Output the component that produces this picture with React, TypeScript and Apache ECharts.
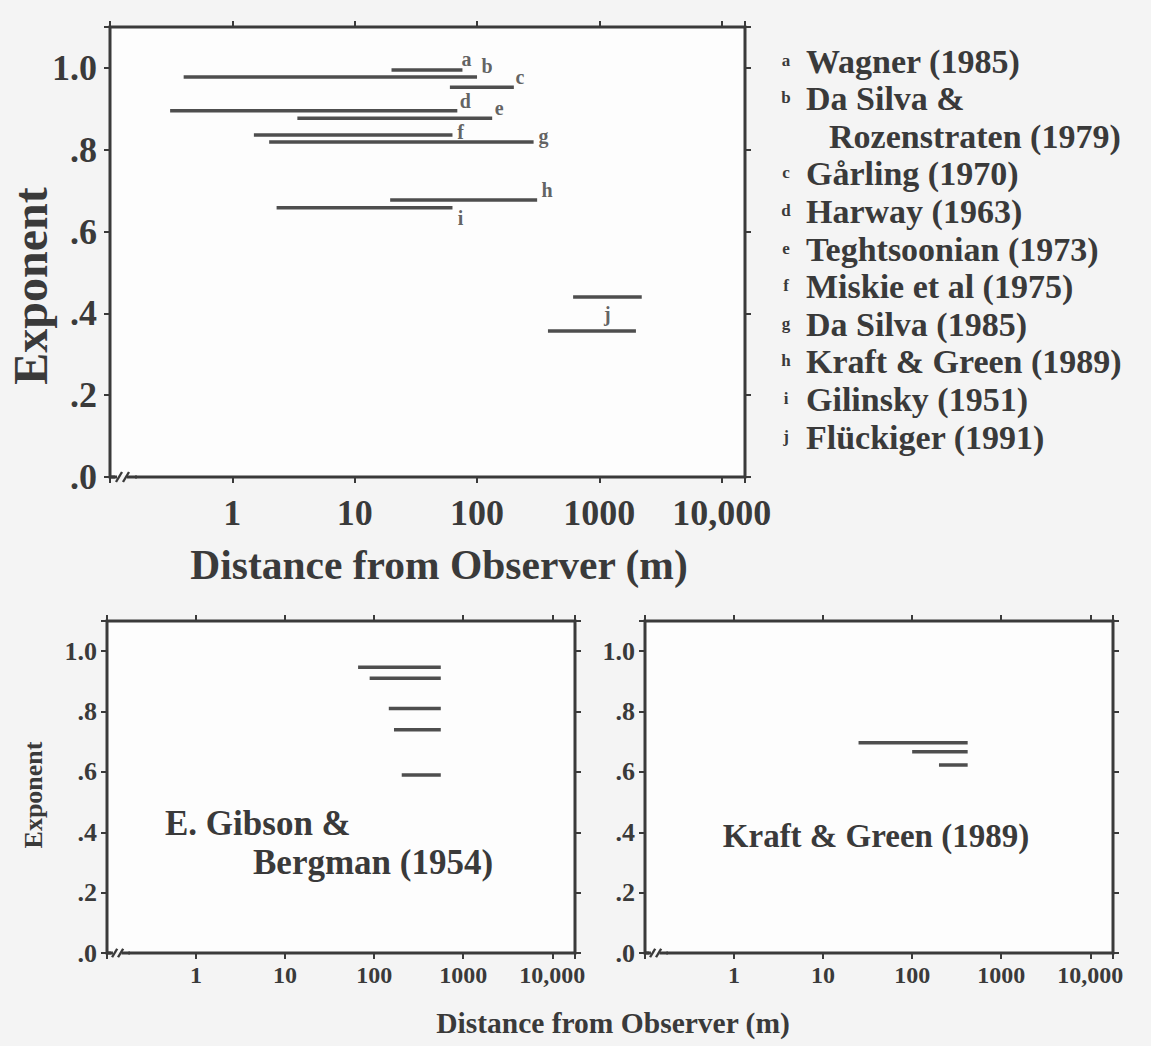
import React, { useEffect, useRef } from "react";
import * as echarts from "echarts";

// ---------- data ----------
// Top panel: one horizontal segment per study (distance range in m, exponent)
const topLetters = ["a", "b", "c", "d", "e", "f", "g", "h", "i", "j", "j"];
const topStart = [20, 0.4, 60, 0.31, 3.4, 1.5, 2.0, 19.5, 2.3, 610, 380];
const topEnd = [76, 100, 200, 69, 133, 63, 290, 310, 63, 2220, 1990];
const topExponent = [0.995, 0.978, 0.953, 0.895, 0.877, 0.836, 0.819, 0.677, 0.658, 0.44, 0.357];

const legendLetters = ["a", "b", "c", "d", "e", "f", "g", "h", "i", "j"];
const legendNames = [
  ["Wagner (1985)"],
  ["Da Silva &", "Rozenstraten (1979)"],
  ["Gårling (1970)"],
  ["Harway (1963)"],
  ["Teghtsoonian (1973)"],
  ["Miskie et al (1975)"],
  ["Da Silva (1985)"],
  ["Kraft & Green (1989)"],
  ["Gilinsky (1951)"],
  ["Flückiger (1991)"],
];

// Bottom-left: E. Gibson & Bergman (1954)
const gibsonStart = [66, 89, 146, 167, 204];
const gibsonEnd = [560, 560, 560, 560, 560];
const gibsonExponent = [0.947, 0.91, 0.81, 0.74, 0.59];

// Bottom-right: Kraft & Green (1989)
const kraftStart = [25, 100, 200];
const kraftEnd = [420, 420, 420];
const kraftExponent = [0.697, 0.667, 0.623];

const xTickLabels = ["1", "10", "100", "1000", "10,000"];
const yTickLabels = [".0", ".2", ".4", ".6", ".8", "1.0"];

// ---------- styles ----------
const FONT = "Liberation Serif";
const INK = "#3a3a3a";
const LINE = "#4e4e4e";
const BG = "#f4f4f4";

const panels = [
  { left: 110, top: 27, width: 635, height: 450, xmax: 15500, xFont: 36, yFont: 36, mx: 18, my: 13 },
  { left: 107, top: 621, width: 468, height: 332, xmax: 18000, xFont: 24, yFont: 26, mx: 10, my: 10 },
  { left: 645, top: 621, width: 468, height: 332, xmax: 18000, xFont: 24, yFont: 26, mx: 10, my: 10 },
];

// label offsets for the letters on the top panel
const letterOffsets = [
  [4, -11], [10, -11], [6, -10], [8, -10], [7, -10], [8, -3], [10, -6], [10, -10], [8, 10], [0, 0],
];

function xFormatter(v: number) {
  const l = Math.log10(v);
  const r = Math.round(l);
  if (Math.abs(l - r) > 1e-6) return "";
  return r >= 0 && r < xTickLabels.length ? xTickLabels[r] : "";
}
function yFormatter(v: number) {
  if (v > 1.05) return "";
  const k = Math.round(v / 0.2);
  return yTickLabels[k] ?? "";
}

function segSeries(starts: number[], ends: number[], ys: number[], panel: number) {
  return starts.map((s, i) => ({
    type: "line",
    xAxisIndex: panel * 2 + 1,
    yAxisIndex: panel * 2,
    data: [
      [s, ys[i]],
      [ends[i], ys[i]],
    ],
    symbol: "none",
    silent: true,
    lineStyle: { color: LINE, width: 3.5, cap: "butt" },
    z: 3,
  }));
}

function breakMark(x0: number, y0: number, s: number) {
  return {
    type: "group",
    z: 100,
    children: [
      { type: "rect", shape: { x: x0 + 5 * s, y: y0 - 6 * s, width: 20 * s, height: 12 * s }, style: { fill: BG }, z: 100 },
      { type: "rect", shape: { x: x0 + 5 * s, y: y0 - 6 * s, width: 20 * s, height: 4.5 * s }, style: { fill: "#fdfdfd" }, z: 100 },
      { type: "line", shape: { x1: x0 + 1 * s, y1: y0, x2: x0 + 7 * s, y2: y0 }, style: { stroke: INK, lineWidth: 3 }, z: 101 },
      { type: "line", shape: { x1: x0 + 6 * s, y1: y0 + 5 * s, x2: x0 + 12 * s, y2: y0 - 5 * s }, style: { stroke: INK, lineWidth: 2.4 }, z: 101 },
      { type: "line", shape: { x1: x0 + 13 * s, y1: y0 + 5 * s, x2: x0 + 19 * s, y2: y0 - 5 * s }, style: { stroke: INK, lineWidth: 2.4 }, z: 101 },
      { type: "line", shape: { x1: x0 + 17 * s, y1: y0, x2: x0 + 27 * s, y2: y0 }, style: { stroke: INK, lineWidth: 3 }, z: 101 },
    ],
  };
}

function txt(text: string, x: number, y: number, size: number, align = "left", rotation = 0) {
  return {
    type: "text",
    x,
    y,
    rotation,
    z: 50,
    style: {
      text,
      fontFamily: FONT,
      fontWeight: "bold",
      fontSize: size,
      fill: INK,
      align,
      verticalAlign: "middle",
      textAlign: align,
      textVerticalAlign: "middle",
    },
  };
}

const mkLine = () => ({ show: false, onZero: false, lineStyle: { color: INK, width: 3 } });
const mkTick = () => ({ show: true, inside: false, length: 6, lineStyle: { color: INK, width: 2 } });

export default function App() {
  const ref = useRef<HTMLDivElement>(null);
  useEffect(() => {
    if (!ref.current) return;
    const chart = echarts.init(ref.current, null, { renderer: "svg", width: 1151, height: 1046 });

    const grid = panels.map((p) => ({
      left: p.left,
      top: p.top,
      width: p.width,
      height: p.height,
      show: true,
      backgroundColor: "#fdfdfd",
      borderWidth: 3,
      borderColor: INK,
    }));

    const xAxis: any[] = [];
    const yAxis: any[] = [];
    panels.forEach((p, i) => {
      xAxis.push({
        type: "log",
        logBase: 10,
        gridIndex: i,
        position: "top",
        min: 0.1,
        max: p.xmax,
        axisLine: mkLine(),
        axisTick: mkTick(),
        splitLine: { show: false },
        axisLabel: { show: false },
      });
      xAxis.push({
        type: "log",
        logBase: 10,
        gridIndex: i,
        position: "bottom",
        min: 0.1,
        max: p.xmax,
        axisLine: mkLine(),
        axisTick: mkTick(),
        splitLine: { show: false },
        axisLabel: {
          formatter: xFormatter,
          fontFamily: FONT,
          fontWeight: "bold",
          fontSize: p.xFont,
          color: INK,
          margin: p.mx,
        },
      });
      yAxis.push({
        type: "value",
        gridIndex: i,
        position: "left",
        min: 0,
        max: 1.1,
        interval: 0.2,
        axisLine: mkLine(),
        axisTick: mkTick(),
        splitLine: { show: false },
        axisLabel: {
          formatter: yFormatter,
          fontFamily: FONT,
          fontWeight: "bold",
          fontSize: p.yFont,
          color: INK,
          margin: p.my,
        },
      });
      yAxis.push({
        type: "value",
        gridIndex: i,
        position: "right",
        min: 0,
        max: 1.1,
        interval: 0.2,
        axisLine: mkLine(),
        axisTick: mkTick(),
        splitLine: { show: false },
        axisLabel: { show: false },
      });
    });

    // letter anchors: end of each segment (a..i), and middle of the two j segments
    const letterData = legendLetters.map((l, i) => {
      let value: number[];
      if (l === "j") {
        value = [Math.sqrt(topStart[9] * topEnd[9]), (topExponent[9] + topExponent[10]) / 2];
      } else {
        value = [topEnd[i], topExponent[i]];
      }
      return { value, name: l, label: { offset: letterOffsets[i] } };
    });

    const series: any[] = [
      ...segSeries(topStart, topEnd, topExponent, 0),
      ...segSeries(gibsonStart, gibsonEnd, gibsonExponent, 1),
      ...segSeries(kraftStart, kraftEnd, kraftExponent, 2),
      {
        type: "scatter",
        xAxisIndex: 1,
        yAxisIndex: 0,
        symbolSize: 0,
        silent: true,
        data: letterData,
        z: 10,
        label: {
          show: true,
          position: "inside",
          formatter: (p: any) => p.name,
          fontFamily: FONT,
          fontWeight: "bold",
          fontSize: 20,
          color: INK,
        },
      },
    ];

    const graphics: any[] = [];
    // axis titles
    graphics.push(txt("Distance from Observer (m)", 439, 565, 41.5, "center"));
    graphics.push(txt("Exponent", 30, 286, 48, "center", Math.PI / 2));
    graphics.push(txt("Exponent", 33, 795, 26, "center", Math.PI / 2));
    graphics.push(txt("Distance from Observer (m)", 613, 1023, 29.5, "center"));
    // panel annotations
    graphics.push(txt("E. Gibson &", 165, 823, 35, "left"));
    graphics.push(txt("Bergman (1954)", 253, 862, 35, "left"));
    graphics.push(txt("Kraft & Green (1989)", 876, 836, 33, "center"));
    // legend
    let row = 0;
    legendLetters.forEach((l, i) => {
      const y0 = 61 + 37.6 * row;
      graphics.push(txt(l, 786, y0 - 1, 17, "center"));
      legendNames[i].forEach((nm, k) => {
        graphics.push(txt(nm, k === 0 ? 806 : 829, 61 + 37.6 * row, 34, "left"));
        row++;
      });
    });
    // axis breaks
    panels.forEach((p, i) => graphics.push(breakMark(p.left, p.top + p.height, i === 0 ? 1 : 0.85)));

    chart.setOption({
      animation: false,
      backgroundColor: BG,
      grid,
      xAxis,
      yAxis,
      series,
      graphic: { elements: graphics },
    });

    return () => chart.dispose();
  }, []);

  return (
    <div
      ref={ref}
      style={{ position: "fixed", left: 0, top: 0, width: 1151, height: 1046 }}
    />
  );
}
